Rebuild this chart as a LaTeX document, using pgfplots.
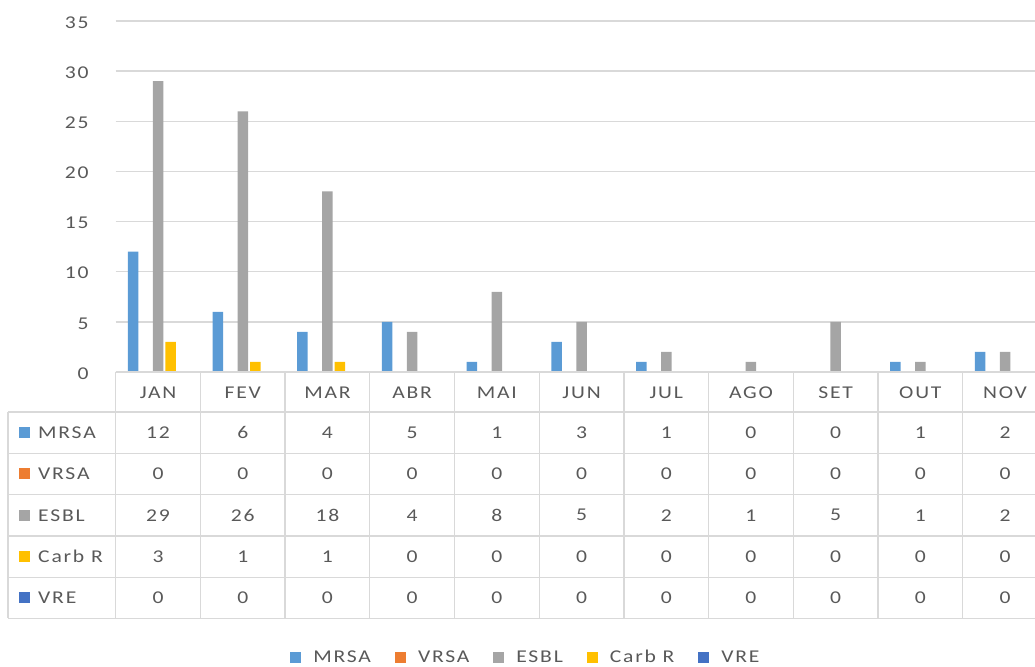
\documentclass[border=0pt]{standalone}
\usepackage{pgfplots}
\pgfplotsset{compat=1.18}
\usepackage{pgfplotstable}
\usepackage{fontspec}
\setmainfont{Carlito}[FakeStretch=1.2,LetterSpace=10]
\definecolor{cMRSA}{HTML}{5B9BD5}
\definecolor{cVRSA}{HTML}{ED7D31}
\definecolor{cESBL}{HTML}{A5A5A5}
\definecolor{cCarb}{HTML}{FFC000}
\definecolor{cVRE}{HTML}{4472C4}
\definecolor{txt}{HTML}{595959}
\definecolor{gridc}{HTML}{D9D9D9}

\pgfplotstableread{
x MRSA VRSA ESBL CarbR VRE
0 12 0 29 3 0
1 6 0 26 1 0
2 4 0 18 1 0
3 5 0 4 0 0
4 1 0 8 0 0
5 3 0 5 0 0
6 1 0 2 0 0
7 0 0 1 0 0
8 0 0 5 0 0
9 1 0 1 0 0
10 2 0 2 0 0
}\data

\pgfplotsset{sq/.style={legend image code/.code={%
  \fill[##1,draw=none] (0pt,-5.5pt) rectangle (11pt,5.5pt);}}}

\begin{document}
\begin{tikzpicture}[x=1pt,y=1pt,font=\fontsize{18}{21}\selectfont]
\useasboundingbox (0,0) rectangle (1035,666);
\begin{axis}[
  at={(115.7pt,294pt)}, anchor=south west,
  scale only axis, width=931.7pt, height=351pt,
  xmin=-0.5, xmax=10.5, ymin=0, ymax=35,
  ytick={0,5,...,35},
  xtick={0,...,10},
  xticklabels={JAN,FEV,MAR,ABR,MAI,JUN,JUL,AGO,SET,OUT,NOV},
  xticklabel style={anchor=center, yshift=-21pt, inner sep=0pt, text=txt},
  yticklabel style={anchor=east, xshift=-27pt, yshift=-1.5pt, inner sep=0pt, text=txt},
  /pgf/number format/assume math mode=true,
  major tick length=0pt,
  axis line style={draw=none},
  ymajorgrids, grid style={gridc, line width=1.3pt},
  ybar=2pt, bar width=10.5pt,
  clip=false,
  legend style={at={(0.4393,-0.812)}, anchor=center, draw=none, fill=none,
    legend columns=-1,
    /tikz/every odd column/.append style={column sep=12pt},
    /tikz/every even column/.append style={column sep=24pt},
    nodes={inner sep=0pt, text=txt}},
]
\addplot[fill=cMRSA, draw=none, sq] table[x=x,y=MRSA]{\data};
\addplot[fill=cVRSA, draw=none, sq] table[x=x,y=VRSA]{\data};
\addplot[fill=cESBL, draw=none, sq] table[x=x,y=ESBL]{\data};
\addplot[fill=cCarb, draw=none, sq] table[x=x,y=CarbR]{\data};
\addplot[fill=cVRE, draw=none, sq] table[x=x,y=VRE]{\data};
\legend{MRSA,VRSA,ESBL,Carb R,VRE}
\end{axis}

\begin{scope}[gridc, line width=1.3pt]
\draw (115.7,666-372) -- (1047,666-372);
\foreach \yy in {412,453.3,494.6,535.9,577.2,618.5} \draw (8,666-\yy) -- (1047,666-\yy);
\draw (8,666-412) -- (8,666-618.5);
\foreach \k in {0,...,11} \draw ({115.7+84.7*\k},666-372) -- ({115.7+84.7*\k},666-618.5);
\end{scope}

\foreach \lab/\col/\row in {MRSA/cMRSA/0, VRSA/cVRSA/1, ESBL/cESBL/2, Carb R/cCarb/3, VRE/cVRE/4} {
  \pgfmathsetmacro\yc{666-432.65-41.3*\row}
  \fill[\col] (19,\yc-5.5) rectangle (30,\yc+5.5);
  \node[anchor=west, text=txt, inner sep=0pt] at (38,\yc) {\lab};
}

\foreach \c [count=\ci from 0] in {MRSA,VRSA,ESBL,CarbR,VRE} {
  \foreach \r in {0,...,10} {
    \pgfplotstablegetelem{\r}{\c}\of\data
    \node[text=txt, inner sep=0pt] at ({115.7+(\r+0.5)*84.7}, {666-432.65-41.3*\ci}) {\pgfplotsretval};
  }
}
\end{tikzpicture}
\end{document}
